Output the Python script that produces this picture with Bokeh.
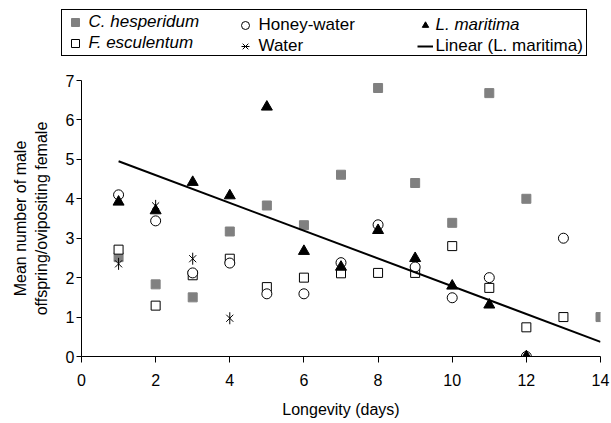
import numpy as np
from bokeh.plotting import figure
from bokeh.layouts import column
from bokeh.models import Range1d, FixedTicker, Legend, LegendItem
from bokeh.embed import file_html
from bokeh.resources import INLINE

# ---- data ----
x_ticks = [0, 2, 4, 6, 8, 10, 12, 14]
y_ticks = [0, 1, 2, 3, 4, 5, 6, 7]

ch_label = "C. hesperidum"
ch_x = [1, 2, 3, 4, 5, 6, 7, 8, 9, 10, 11, 12, 14]
ch_y = [2.52, 1.83, 1.50, 3.17, 3.83, 3.33, 4.61, 6.81, 4.40, 3.39, 6.68, 4.00, 1.00]

fe_label = "F. esculentum"
fe_x = [1, 2, 3, 4, 5, 6, 7, 8, 9, 10, 11, 12, 13]
fe_y = [2.71, 1.29, 2.06, 2.48, 1.76, 2.00, 2.11, 2.12, 2.12, 2.80, 1.74, 0.74, 1.00]

hw_label = "Honey-water"
hw_x = [1, 2, 3, 4, 5, 6, 7, 8, 9, 10, 11, 12, 13]
hw_y = [4.10, 3.44, 2.12, 2.37, 1.59, 1.59, 2.38, 3.34, 2.27, 1.49, 2.00, 0.00, 3.00]

wa_label = "Water"
wa_x = [1, 2, 3, 4]
wa_y = [2.35, 3.82, 2.48, 0.97]

lm_label = "L. maritima"
lm_x = [1, 2, 3, 4, 5, 6, 7, 8, 9, 10, 11, 12]
lm_y = [3.92, 3.70, 4.42, 4.08, 6.33, 2.67, 2.27, 3.20, 2.49, 1.79, 1.31, 0.00]

fit_label = "Linear (L. maritima)"
x_min, x_max = 0, 14
y_min, y_max = 0, 7

# linear trend of L. maritima, drawn from the first point to the axis end
slope, intercept = np.polyfit(lm_x, lm_y, 1)
fit_x = [min(lm_x), x_max]
fit_y = [slope * v + intercept for v in fit_x]

FONT = "Liberation Sans"
W = 611
LEG_H = 58
MAIN_H = 423 - LEG_H
TOP = 22
FRAME_H = 276

# ---- styles ----
ch_style = dict(marker="square", size=9, fill_color="#808080", line_color="#808080")
fe_style = dict(marker="square", size=9, fill_color="white", line_color="black", line_width=1)
hw_style = dict(marker="circle", size=10, fill_color="white", line_color="black", line_width=1)
wa1_style = dict(marker="x", size=10, line_color="black", line_width=1)
wa2_style = dict(marker="dash", size=12, angle=np.pi / 2, line_color="black", line_width=1)
lm_style = dict(marker="triangle", size=11, fill_color="black", line_color="black")
fit_style = dict(line_color="black", line_width=2)

# ---- main plot ----
p = figure(width=W, height=MAIN_H, output_backend="svg", toolbar_location=None,
           x_range=Range1d(x_min, x_max), y_range=Range1d(y_min, y_max),
           min_border_left=81, min_border_right=11, min_border_top=TOP,
           min_border_bottom=MAIN_H - TOP - FRAME_H)
p.outline_line_color = None
p.xgrid.grid_line_color = None
p.ygrid.grid_line_color = None

for ax in (p.xaxis[0], p.yaxis[0]):
    ax.axis_line_color = "black"
    ax.axis_line_width = 1
    ax.major_tick_line_color = "black"
    ax.major_tick_in = 0
    ax.major_tick_out = 6
    ax.minor_tick_line_color = None
    ax.major_label_text_font = FONT
    ax.major_label_text_font_size = "16px"
    ax.major_label_text_color = "black"
    ax.axis_label_text_font = FONT
    ax.axis_label_text_font_size = "16px"
    ax.axis_label_text_font_style = "normal"
    ax.axis_label_text_color = "black"

p.xaxis[0].ticker = FixedTicker(ticks=x_ticks)
p.yaxis[0].ticker = FixedTicker(ticks=y_ticks)
p.xaxis[0].axis_label = "Longevity (days)"
p.yaxis[0].axis_label = "Mean number of male\noffspring/ovipositing female"
p.xaxis[0].major_label_standoff = 11
p.xaxis[0].axis_label_standoff = 12
p.yaxis[0].major_tick_out = 5
p.yaxis[0].major_label_standoff = 2
p.yaxis[0].axis_label_standoff = 13

p.scatter(ch_x, ch_y, **ch_style)
p.scatter(fe_x, fe_y, **fe_style)
p.scatter(hw_x, hw_y, **hw_style)
p.scatter(wa_x, wa_y, **wa1_style)
p.scatter(wa_x, wa_y, **wa2_style)
p.scatter(lm_x, lm_y, **lm_style)
p.line(fit_x, fit_y, **fit_style)

# ---- legend strip: a separate figure whose view range excludes the data,
#      so its renderers only serve as legend glyph sources ----
q = figure(width=W, height=LEG_H, output_backend="svg", toolbar_location=None,
           x_range=Range1d(x_min, x_max), y_range=Range1d(100, 101),
           x_axis_type=None, y_axis_type=None,
           min_border_left=0, min_border_right=0, min_border_top=0, min_border_bottom=0)
q.frame_align = False
q.outline_line_color = None
q.xgrid.grid_line_color = None
q.ygrid.grid_line_color = None

g_ch = q.scatter(ch_x, ch_y, **ch_style)
g_fe = q.scatter(fe_x, fe_y, **fe_style)
g_hw = q.scatter(hw_x, hw_y, **hw_style)
g_wa1 = q.scatter(wa_x, wa_y, **wa1_style)
g_wa2 = q.scatter(wa_x, wa_y, **wa2_style)
g_lm = q.scatter(lm_x, lm_y, **lm_style)
g_fit = q.line(fit_x, fit_y, **fit_style)


def make_legend(items, loc, italic, border=False, gw=22, label_width=20):
    lg = Legend(items=items, location=loc, orientation="vertical", margin=0,
                padding=2, spacing=1, glyph_width=gw, glyph_height=20,
                label_height=20, label_width=label_width, label_standoff=3,
                label_text_font=FONT, label_text_font_size="17px",
                label_text_color="black",
                label_text_font_style="italic" if italic else "normal",
                click_policy="none")
    if border:
        lg.border_line_color = "black"
        lg.border_line_width = 1
        lg.border_line_alpha = 1
        lg.background_fill_color = "white"
        lg.background_fill_alpha = 1
    else:
        lg.border_line_color = None
        lg.background_fill_alpha = 0
    return lg


L1 = make_legend([LegendItem(label=ch_label, renderers=[g_ch]),
                  LegendItem(label=fe_label, renderers=[g_fe])],
                 (60.5, 2.5), True, border=True, label_width=495)
L2 = make_legend([LegendItem(label=hw_label, renderers=[g_hw]),
                  LegendItem(label=wa_label, renderers=[g_wa1, g_wa2])],
                 (233.5, 2.5), False)
L3 = make_legend([LegendItem(label=lm_label, renderers=[g_lm])],
                 (416.5, 23.5), True, gw=16)
L4 = make_legend([LegendItem(label=fit_label, renderers=[g_fit])],
                 (416.5, 2.5), False, gw=16)
for lg in (L1, L2, L3, L4):
    q.add_layout(lg, "center")

layout = column(q, p, spacing=0)
open("out.html", "w").write(file_html(layout, INLINE))
